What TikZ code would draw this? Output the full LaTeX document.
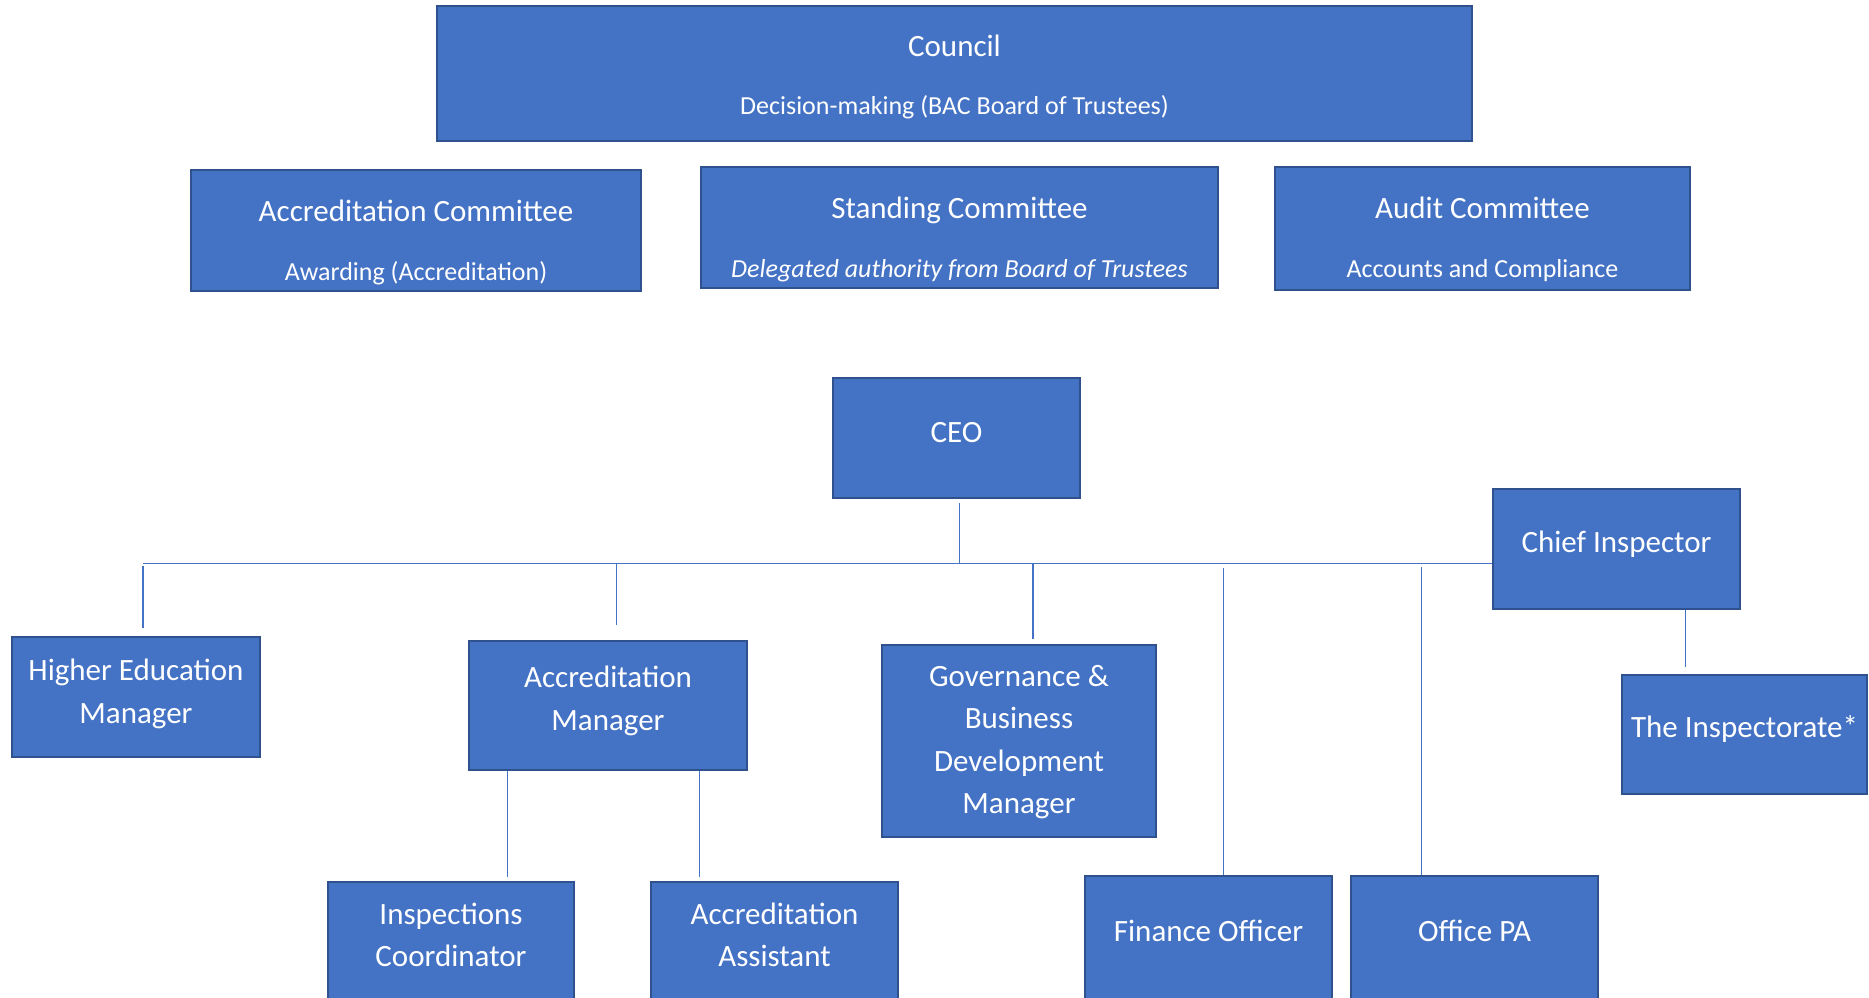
\documentclass[tikz,border=0pt]{standalone}
\usepackage{fontspec}
\setmainfont{Carlito}
\usetikzlibrary{calc}
\definecolor{boxfill}{HTML}{4472C4}
\definecolor{boxline}{HTML}{2F528F}
\definecolor{connline}{HTML}{4472C4}
\begin{document}
\begin{tikzpicture}[x=1pt,y=-1pt,
  orgbox/.style={draw=boxline, fill=boxfill, line width=2pt, inner sep=0pt},
  ttl/.style={text=white, font=\fontsize{31}{42.5}\selectfont, align=center, inner sep=0pt},
  sub/.style={text=white, font=\fontsize{26}{32}\selectfont, align=center, inner sep=0pt},
  conn/.style={draw=connline, line width=1.3pt}]
\useasboundingbox (0,0) rectangle (1869,998);
\clip (0,0) rectangle (1869,998);
\fill[white] (0,0) rectangle (1869,998);

% boxes
\node[orgbox, minimum width=1035pt, minimum height=135pt] (council) at (954.5,73.5) {};
\node[orgbox, minimum width=450pt, minimum height=121pt] (acccomm) at (416,230.5) {};
\node[orgbox, minimum width=517pt, minimum height=121pt] (standing) at (959.5,227.5) {};
\node[orgbox, minimum width=415pt, minimum height=123pt] (audit) at (1482.5,228.5) {};
\node[orgbox, minimum width=247pt, minimum height=120pt] (ceo) at (956.5,438) {};
\node[orgbox, minimum width=247pt, minimum height=120pt] (chief) at (1616.5,549) {};
\node[orgbox, minimum width=248pt, minimum height=120pt] (hem) at (136,697) {};
\node[orgbox, minimum width=278pt, minimum height=129pt] (accmgr) at (608,705.5) {};
\node[orgbox, minimum width=274pt, minimum height=192pt] (gov) at (1019,741) {};
\node[orgbox, minimum width=245pt, minimum height=119pt] (inspectorate) at (1744.5,734.5) {};
\node[orgbox, minimum width=246pt, minimum height=122pt] (inscoord) at (451,943) {};
\node[orgbox, minimum width=247pt, minimum height=122pt] (accasst) at (774.5,943) {};
\node[orgbox, minimum width=247pt, minimum height=128pt] (finance) at (1208.5,940) {};
\node[orgbox, minimum width=247pt, minimum height=128pt] (officepa) at (1474.5,940) {};

% texts
\node[ttl] (tcouncil) at (954.5,45.5) {Council};
\node[sub] (scouncil) at (954.5,107) {Decision-making (BAC Board of Trustees)};
\node[ttl] (tacccomm) at (416,211) {Accreditation Committee};
\node[sub] (sacccomm) at (416,273.5) {Awarding (Accreditation)};
\node[ttl] (tstanding) at (959.5,210.5) {Standing Committee};
\node[sub, font=\fontsize{26}{32}\selectfont\itshape] (sstanding) at (959.5,270.5) {Delegated authority from Board of Trustees};
\node[ttl] (taudit) at (1482.5,208) {Audit Committee};
\node[sub] (saudit) at (1482.5,270.5) {Accounts and Compliance};
\node[ttl] (tceo) at (956.5,432.4) {CEO};
\node[ttl] (tchief) at (1616.5,544) {Chief Inspector};
\node[ttl] (themm) at (136,693.8) {Higher Education\\Manager};
\node[ttl] (taccmgr) at (608,701) {Accreditation\\Manager};
\node[ttl] (tgov) at (1019,742) {Governance \&\\Business\\Development\\Manager};
\node[ttl] (tinsp) at (1744.5,729) {The Inspectorate*};
\node[ttl] (tinscoord) at (451,935) {Inspections\\Coordinator};
\node[ttl] (taccasst) at (774.5,935) {Accreditation\\Assistant};
\node[ttl] (tfinance) at (1208.5,930.5) {Finance Officer};
\node[ttl] (tofficepa) at (1474.5,930.5) {Office PA};

% connector coordinates
\coordinate (busL) at (143,563.5);
\coordinate (busR) at (chief.west |- busL);
\coordinate (xam) at (616.6,0);
\coordinate (xgov) at (1033,0);
\coordinate (xfin) at (1223.3,0);
\coordinate (xpa) at (1421.6,0);
\coordinate (xic) at (507.5,0);
\coordinate (xaa) at (699.5,0);
\coordinate (xci) at (1685.5,0);
\coordinate (xceo) at (959.5,0);

% connectors
\draw[conn] (busL) -- (busR);
\draw[conn, shorten <=4pt] (ceo.south -| xceo) -- (busL -| xceo);
\draw[conn, shorten <=2pt, shorten >=8pt] (busL) -- (hem.north -| busL);
\draw[conn, shorten >=15pt] (busL -| xam) -- (accmgr.north -| xam);
\draw[conn, shorten >=5pt] (busL -| xgov) -- (gov.north -| xgov);
\draw[conn, shorten <=4pt] (busL -| xfin) -- (finance.north -| xfin);
\draw[conn, shorten <=3pt] (busL -| xpa) -- (officepa.north -| xpa);
\draw[conn, shorten >=4pt] (accmgr.south -| xic) -- (inscoord.north -| xic);
\draw[conn, shorten >=4pt] (accmgr.south -| xaa) -- (accasst.north -| xaa);
\draw[conn, shorten >=7pt] (chief.south -| xci) -- (inspectorate.north -| xci);
\end{tikzpicture}
\end{document}
